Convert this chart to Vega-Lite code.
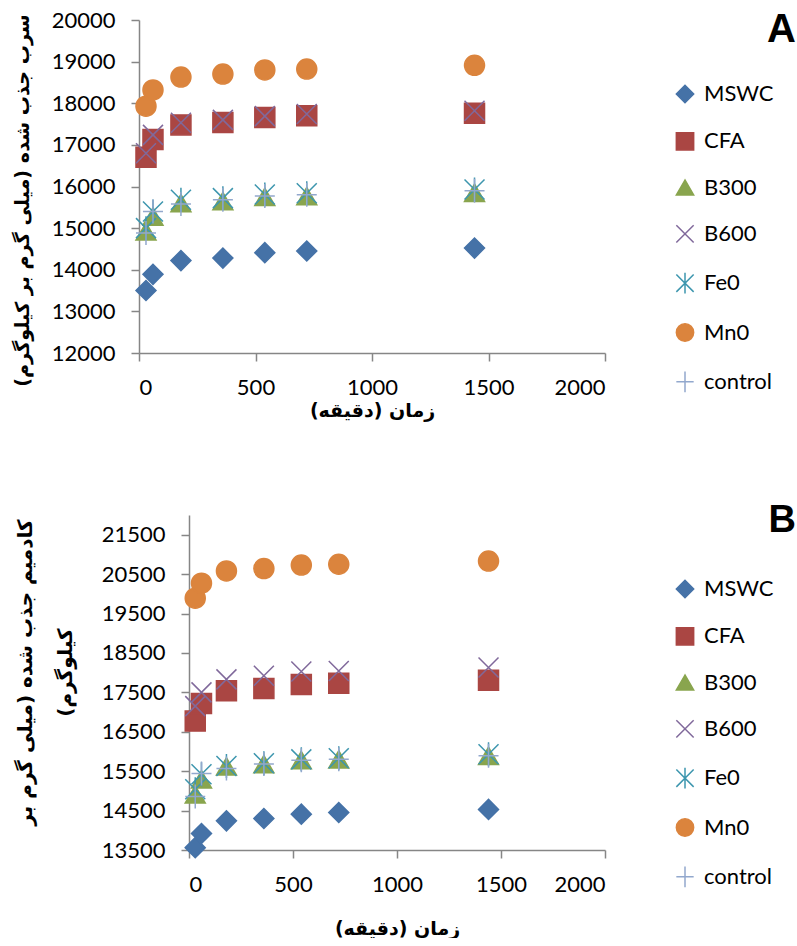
{
  "$schema": "https://vega.github.io/schema/vega-lite/v6.json",
  "background": "white",
  "padding": {"left": 13, "top": 9, "right": 2, "bottom": 0},
  "config": {
    "view": {"stroke": null},
    "font": "Lato",
    "axis": {"grid": false, "domainColor": "#868686", "domainWidth": 1.5, "tickColor": "#868686", "tickWidth": 1.5, "tickSize": 8, "labelFont": "Lato", "labelFontSize": 22, "labelColor": "#000000", "labelPadding": 16, "titleFont": "DejaVu Sans", "titleFontWeight": "bold", "titleFontSize": 19, "titleColor": "#000000"},
    "legend": {"labelFont": "Lato", "labelFontSize": 22, "labelColor": "#000000", "symbolSize": 300, "symbolStrokeWidth": 1.5, "rowPadding": 23.3, "labelOffset": 8, "padding": 0}
  },
  "datasets": {
    "a": [
      {"s":"MSWC","t":30,"q":13500},{"s":"MSWC","t":60,"q":13890},{"s":"MSWC","t":180,"q":14220},{"s":"MSWC","t":360,"q":14280},{"s":"MSWC","t":540,"q":14410},{"s":"MSWC","t":720,"q":14450},{"s":"MSWC","t":1440,"q":14520},
      {"s":"CFA","t":30,"q":16700},{"s":"CFA","t":60,"q":17130},{"s":"CFA","t":180,"q":17480},{"s":"CFA","t":360,"q":17540},{"s":"CFA","t":540,"q":17660},{"s":"CFA","t":720,"q":17700},{"s":"CFA","t":1440,"q":17760},
      {"s":"B300","t":30,"q":14920},{"s":"B300","t":60,"q":15280},{"s":"B300","t":180,"q":15600},{"s":"B300","t":360,"q":15650},{"s":"B300","t":540,"q":15750},{"s":"B300","t":720,"q":15770},{"s":"B300","t":1440,"q":15850},
      {"s":"B600","t":30,"q":16800},{"s":"B600","t":60,"q":17240},{"s":"B600","t":180,"q":17530},{"s":"B600","t":360,"q":17600},{"s":"B600","t":540,"q":17690},{"s":"B600","t":720,"q":17740},{"s":"B600","t":1440,"q":17820},
      {"s":"Fe0","t":30,"q":15000},{"s":"Fe0","t":60,"q":15400},{"s":"Fe0","t":180,"q":15680},{"s":"Fe0","t":360,"q":15720},{"s":"Fe0","t":540,"q":15810},{"s":"Fe0","t":720,"q":15840},{"s":"Fe0","t":1440,"q":15930},
      {"s":"Mn0","t":30,"q":17930},{"s":"Mn0","t":60,"q":18320},{"s":"Mn0","t":180,"q":18630},{"s":"Mn0","t":360,"q":18700},{"s":"Mn0","t":540,"q":18800},{"s":"Mn0","t":720,"q":18820},{"s":"Mn0","t":1440,"q":18910},
      {"s":"control","t":30,"q":14880},{"s":"control","t":60,"q":15400},{"s":"control","t":180,"q":15580},{"s":"control","t":360,"q":15680},{"s":"control","t":540,"q":15770},{"s":"control","t":720,"q":15800},{"s":"control","t":1440,"q":15900}
    ],
    "b": [
      {"s":"MSWC","t":30,"q":13560},{"s":"MSWC","t":60,"q":13920},{"s":"MSWC","t":180,"q":14240},{"s":"MSWC","t":360,"q":14300},{"s":"MSWC","t":540,"q":14410},{"s":"MSWC","t":720,"q":14450},{"s":"MSWC","t":1440,"q":14530},
      {"s":"CFA","t":30,"q":16770},{"s":"CFA","t":60,"q":17220},{"s":"CFA","t":180,"q":17540},{"s":"CFA","t":360,"q":17600},{"s":"CFA","t":540,"q":17700},{"s":"CFA","t":720,"q":17730},{"s":"CFA","t":1440,"q":17810},
      {"s":"B300","t":30,"q":14910},{"s":"B300","t":60,"q":15290},{"s":"B300","t":180,"q":15620},{"s":"B300","t":360,"q":15680},{"s":"B300","t":540,"q":15780},{"s":"B300","t":720,"q":15800},{"s":"B300","t":1440,"q":15890},
      {"s":"B600","t":30,"q":17150},{"s":"B600","t":60,"q":17500},{"s":"B600","t":180,"q":17830},{"s":"B600","t":360,"q":17920},{"s":"B600","t":540,"q":18030},{"s":"B600","t":720,"q":18040},{"s":"B600","t":1440,"q":18130},
      {"s":"Fe0","t":30,"q":15040},{"s":"Fe0","t":60,"q":15420},{"s":"Fe0","t":180,"q":15630},{"s":"Fe0","t":360,"q":15700},{"s":"Fe0","t":540,"q":15800},{"s":"Fe0","t":720,"q":15830},{"s":"Fe0","t":1440,"q":15930},
      {"s":"Mn0","t":30,"q":19890},{"s":"Mn0","t":60,"q":20270},{"s":"Mn0","t":180,"q":20580},{"s":"Mn0","t":360,"q":20640},{"s":"Mn0","t":540,"q":20730},{"s":"Mn0","t":720,"q":20750},{"s":"Mn0","t":1440,"q":20830},
      {"s":"control","t":30,"q":14860},{"s":"control","t":60,"q":15440},{"s":"control","t":180,"q":15570},{"s":"control","t":360,"q":15680},{"s":"control","t":540,"q":15780},{"s":"control","t":720,"q":15800},{"s":"control","t":1440,"q":15890}
    ]
  },
  "spacing": 82,
  "resolve": {
    "scale": {"x": "independent", "y": "independent", "fill": "independent", "stroke": "independent", "shape": "independent"},
    "legend": {"fill": "independent", "stroke": "independent", "shape": "independent"}
  },
  "vconcat": [
    {
      "width": 466,
      "height": 333,
      "title": {"text": "A", "anchor": "end", "frame": "group", "dx": 191, "offset": -41, "fontSize": 40, "font": "Liberation Sans", "fontWeight": "bold", "color": "#000000"},
      "data": {"name": "a"},
      "mark": {"type": "point", "filled": true, "opacity": 1, "strokeWidth": 1.5, "size": 400},
      "encoding": {
        "x": {"field": "t", "type": "quantitative", "scale": {"domain": [0, 2000], "nice": false}, "axis": {"values": [0, 500, 1000, 1500, 2000], "format": "d", "title": "زمان (دقیقه)‏", "titlePadding": 3}},
        "y": {"field": "q", "type": "quantitative", "scale": {"domain": [12000, 20000], "zero": false, "nice": false}, "axis": {"values": [12000, 13000, 14000, 15000, 16000, 17000, 18000, 19000, 20000], "format": "d", "title": "سرب جذب شده (میلی گرم بر کیلوگرم)‏", "titleFontSize": 19.2, "titlePadding": 19, "titleY": 180}},
        "fill": {"field": "s", "type": "nominal", "scale": {"domain": ["MSWC", "CFA", "B300", "B600", "Fe0", "Mn0", "control"], "range": ["#4572A7", "#AA4643", "#89A54E", "#80699B", "#3D96AE", "#DB843D", "#92A8CD"]}, "legend": {"title": null, "orient": "none", "legendX": 535, "legendY": 63}},
        "stroke": {"field": "s", "type": "nominal", "scale": {"domain": ["MSWC", "CFA", "B300", "B600", "Fe0", "Mn0", "control"], "range": ["#4572A7", "#AA4643", "#89A54E", "#80699B", "#3D96AE", "#DB843D", "#92A8CD"]}, "legend": {"title": null, "orient": "none", "legendX": 535, "legendY": 63}},
        "shape": {"field": "s", "type": "nominal", "scale": {"domain": ["MSWC", "CFA", "B300", "B600", "Fe0", "Mn0", "control"], "range": ["diamond", "square", "triangle-up", "M-1,-1L1,1M-1,1L1,-1", "M-1,-1L1,1M-1,1L1,-1M0,-1.2L0,1.2", "circle", "M-1,0L1,0M0,-1.2L0,1.2"]}, "legend": {"title": null, "orient": "none", "legendX": 535, "legendY": 63}}
      }
    },
    {
      "width": 466,
      "height": 335,
      "title": {"text": "B", "anchor": "end", "frame": "group", "dx": 191, "offset": -25, "fontSize": 38, "font": "Liberation Sans", "fontWeight": "bold", "color": "#000000"},
      "data": {"name": "b"},
      "mark": {"type": "point", "filled": true, "opacity": 1, "strokeWidth": 1.5, "size": 400},
      "encoding": {
        "x": {"field": "t", "type": "quantitative", "scale": {"domain": [0, 2000], "nice": false, "range": [50, 466]}, "axis": {"values": [0, 500, 1000, 1500, 2000], "format": "d", "title": "زمان (دقیقه)‏", "titlePadding": 24}},
        "y": {"field": "q", "type": "quantitative", "scale": {"domain": [13500, 22000], "zero": false, "nice": false}, "axis": {"offset": -50, "values": [13500, 14500, 15500, 16500, 17500, 18500, 19500, 20500, 21500], "format": "d", "title": ["کادمیم جذب شده (میلی گرم بر‏", "کیلوگرم)‏"], "titleFontSize": 20, "titleLineHeight": 40, "titlePadding": 26, "labelPadding": 16, "titleY": 157}},
        "fill": {"field": "s", "type": "nominal", "scale": {"domain": ["MSWC", "CFA", "B300", "B600", "Fe0", "Mn0", "control"], "range": ["#4572A7", "#AA4643", "#89A54E", "#80699B", "#3D96AE", "#DB843D", "#92A8CD"]}, "legend": {"title": null, "orient": "none", "legendX": 535, "legendY": 63}},
        "stroke": {"field": "s", "type": "nominal", "scale": {"domain": ["MSWC", "CFA", "B300", "B600", "Fe0", "Mn0", "control"], "range": ["#4572A7", "#AA4643", "#89A54E", "#80699B", "#3D96AE", "#DB843D", "#92A8CD"]}, "legend": {"title": null, "orient": "none", "legendX": 535, "legendY": 63}},
        "shape": {"field": "s", "type": "nominal", "scale": {"domain": ["MSWC", "CFA", "B300", "B600", "Fe0", "Mn0", "control"], "range": ["diamond", "square", "triangle-up", "M-1,-1L1,1M-1,1L1,-1", "M-1,-1L1,1M-1,1L1,-1M0,-1.2L0,1.2", "circle", "M-1,0L1,0M0,-1.2L0,1.2"]}, "legend": {"title": null, "orient": "none", "legendX": 535, "legendY": 63}}
      }
    }
  ]
}
